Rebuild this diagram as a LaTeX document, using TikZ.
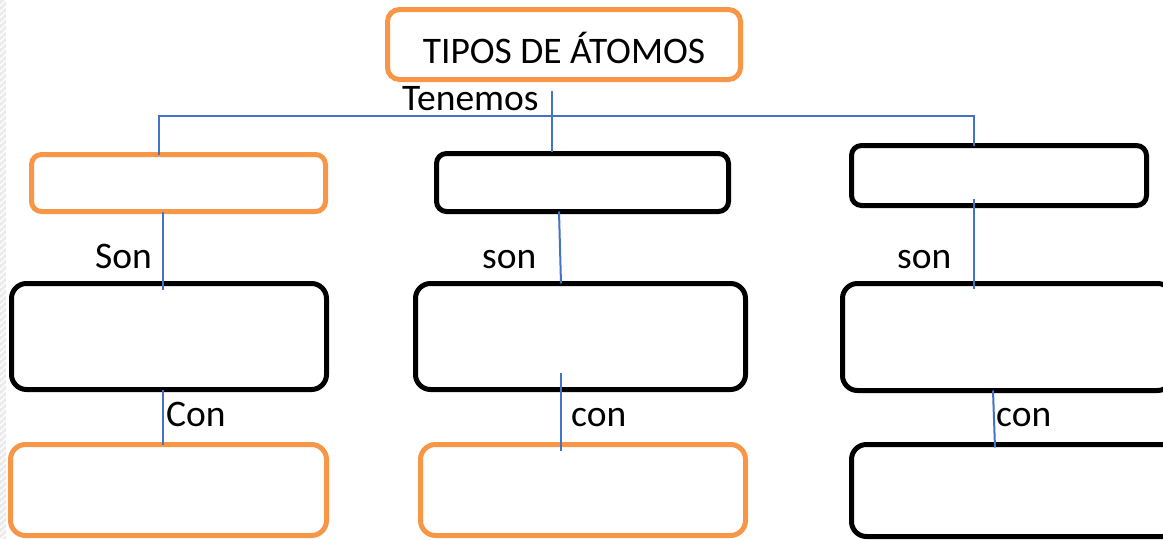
\documentclass[tikz,border=0pt]{standalone}
\usepackage{fontspec}
\setmainfont{Carlito}
\usepackage{tikz}
\usetikzlibrary{calc,positioning}
\definecolor{myorange}{RGB}{247,150,70}
\definecolor{myblue}{RGB}{68,114,196}
\definecolor{mystrip}{RGB}{234,234,234}

\begin{document}
\begin{tikzpicture}[
  x=1pt,
  y=-1pt,
  font=\fontsize{37.5}{41}\selectfont,
  mybox/.style={
    draw,
    line width=5pt,
    rounded corners=15pt,
    outer sep=0pt,
    inner sep=0pt
    },
  myorangebox/.style={
    mybox,
    draw=myorange
    },
  mylink/.style={
    draw=myblue,
    line width=2pt
    },
  mylabel/.style={
    anchor=base west,
    inner sep=0pt
    }
]
\useasboundingbox (0,0) rectangle (1163,539);
\clip (0,0) rectangle (1163,539);

% page edge
\fill[mystrip] (0,0) rectangle (6,539);
\foreach \k in {0,6,...,546}
  \draw[white, line width=1.2pt] (0,\k) -- (6,\k-6);

\node[myorangebox, rounded corners=12pt, text height=37pt, text depth=0pt,
  minimum width=353pt, minimum height=70pt] at (564,44.5) (tipos) {TIPOS DE ÁTOMOS};

\node[myorangebox, rounded corners=10pt, minimum width=294pt, minimum height=57pt] at (178.5,183) (a1) {};
\node[mybox, rounded corners=10pt, minimum width=292pt, minimum height=58pt] at (582.5,182.5) (b1) {};
\node[mybox, rounded corners=10pt, minimum width=295pt, minimum height=60pt] at (999,175.5) (c1) {};

\node[mybox, minimum width=315pt, minimum height=106pt] at (169,336.5) (a2) {};
\node[mybox, minimum width=330pt, minimum height=106pt] at (580.5,336.5) (b2) {};
\node[mybox, minimum width=330pt, minimum height=107pt] at (1007.5,337) (c2) {};

\node[myorangebox, minimum width=316pt, minimum height=91pt] at (168.5,490) (a3) {};
\node[myorangebox, minimum width=325pt, minimum height=91pt] at (583,490) (b3) {};
\node[mybox, minimum width=340pt, minimum height=92pt] at (1021.5,490.5) (c3) {};

\draw[mylink] ($(tipos.south)+(-12,11.5)$) -- ($(b1.north)+(-30.5,-1.5)$);
\draw[mylink] ($(a1.north)+(-19.5,0)$) |- ($(tipos.south)+(0,36.5)$) -| ($(c1.north)+(-25,0)$);

\draw[mylink] ($(a1.south)+(-15.5,0)$) -- ($(a2.north)+(-6,6.5)$);
\draw[mylink] ($(b1.south)+(-23.5,0)$) -- ($(b2.north)+(-19.5,0)$);
\draw[mylink] ($(c1.south)+(-25,-6.5)$) -- ($(c2.north)+(-33.5,5.5)$);

\draw[mylink] ($(a2.south)+(-6,0)$) -- ($(a3.north)+(-5.5,0)$);
\draw[mylink] ($(b2.south)+(-19.5,-16.5)$) -- ($(b3.north)+(-22,6.5)$);
\draw[mylink] ($(c2.south)+(-14.5,0)$) -- ($(c3.north)+(-26.5,3)$);

\foreach \Texto/\X/\Y/\Nombre in {Tenemos/402/110/tenemos, Son/95/268/sonA, son/482/268/sonB, son/897/268/sonC, Con/166/426/conA, con/571/426/conB, con/996/426/conC}
  \node[mylabel] at (\X,\Y) (\Nombre) {\Texto};

\end{tikzpicture}
\end{document}
